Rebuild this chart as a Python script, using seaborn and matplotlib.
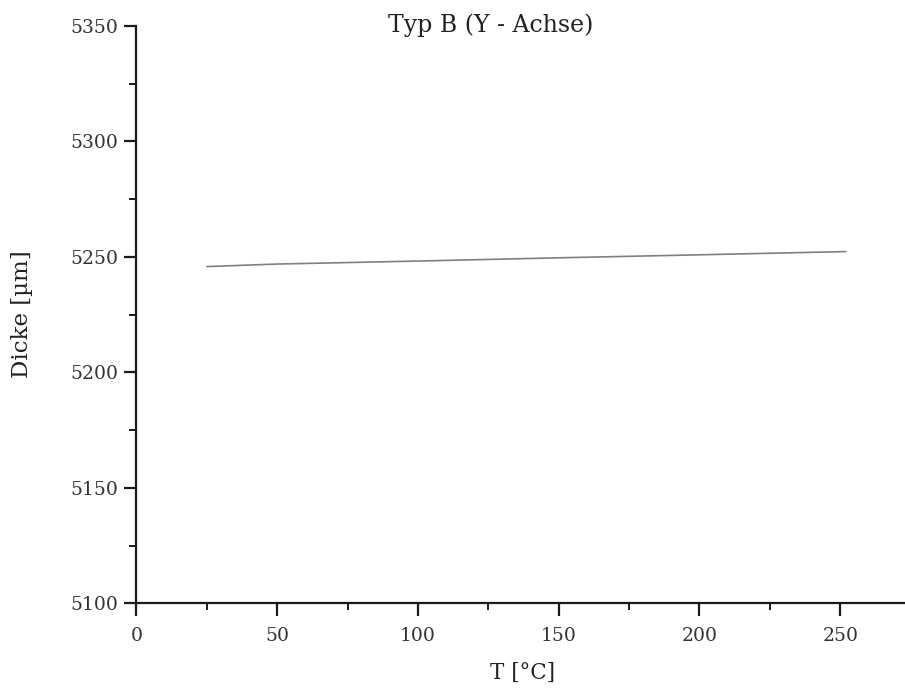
import matplotlib
matplotlib.use("Agg")
import matplotlib.pyplot as plt
import seaborn as sns
import pandas as pd
from matplotlib.ticker import MultipleLocator

temperature = [25, 50, 100, 150, 200, 252]
thickness = [5245.8, 5246.9, 5248.2, 5249.6, 5250.9, 5252.3]

df = pd.DataFrame({"T": temperature, "Dicke": thickness})

sns.set_theme(style="ticks")
plt.rcParams['font.family'] = ['DejaVu Serif', 'DejaVu Sans']

fig = plt.figure(figsize=(9.05, 6.91), dpi=100)
ax = fig.add_axes([0.1508, 0.127, 0.8492, 0.8354])

sns.lineplot(data=df, x="T", y="Dicke", ax=ax, color="#808080", linewidth=1.2)

ax.set_xlim(0, 273)
ax.set_ylim(5100, 5350)
ax.xaxis.set_major_locator(MultipleLocator(50))
ax.xaxis.set_minor_locator(MultipleLocator(25))
ax.yaxis.set_major_locator(MultipleLocator(50))
ax.yaxis.set_minor_locator(MultipleLocator(25))

for s in ["top", "right"]:
    ax.spines[s].set_visible(False)
for s in ["left", "bottom"]:
    ax.spines[s].set_linewidth(1.6)
    ax.spines[s].set_color("#1a1a1a")

ax.tick_params(axis="both", which="major", direction="out", length=9, width=1.6,
               colors="#1a1a1a", labelsize=13.5, labelcolor="#333333", pad=4)
ax.tick_params(axis="x", which="major", pad=8)
ax.tick_params(axis="both", which="minor", direction="out", length=5, width=1.4,
               colors="#1a1a1a")

ax.set_xlabel("")
ax.set_ylabel("")
fig.text(491/905, 1 - 25/691, "Typ B (Y - Achse)", ha="center", va="center",
         fontsize=17, color="#222222")
fig.text(22/905, 1 - 314/691, "Dicke [µm]", rotation=90, ha="center", va="center",
         fontsize=16.5, color="#222222")
fig.text(523/905, 1 - 673/691, "T [°C]", ha="center", va="center",
         fontsize=15.5, color="#222222")

fig.savefig("out.png", dpi=100, facecolor="white")
